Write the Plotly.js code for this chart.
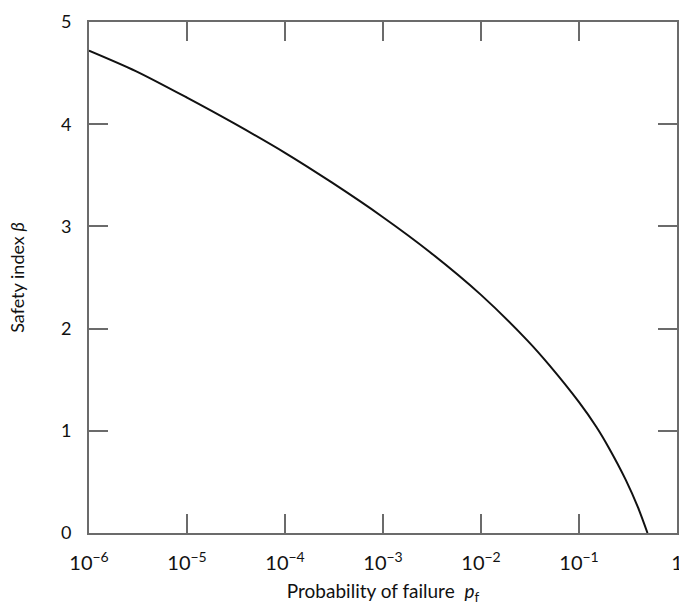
<!DOCTYPE html>
<html><head><meta charset="utf-8">
<script src="https://cdn.plot.ly/plotly-3.0.1.min.js"></script>
<style>html,body{margin:0;padding:0;background:#fff}</style>
</head><body>
<div id="chart" style="width:679px;height:609px"></div>
<script>
const pf = [1e-6, 3e-6, 1e-5, 3e-5, 1e-4, 3e-4, 1e-3, 3e-3, 1e-2, 3e-2, 5e-2, 1e-1, 0.15, 0.2, 0.3, 0.4, 0.5];
const beta = [4.72, 4.52, 4.26, 4.01, 3.72, 3.43, 3.09, 2.75, 2.33, 1.88, 1.64, 1.28, 1.04, 0.84, 0.52, 0.25, 0.0];
const xTickVals = [1e-6, 1e-5, 1e-4, 1e-3, 1e-2, 1e-1, 1];
const xTickText = ['10<sup>−6</sup>', '10<sup>−5</sup>', '10<sup>−4</sup>', '10<sup>−3</sup>', '10<sup>−2</sup>', '10<sup>−1</sup>', '1'];
const yTickVals = [0, 1, 2, 3, 4, 5];
const yTickText = ['0', '1', '2', '3', '4', '5'];

const fontFam = 'Lato, "Open Sans", sans-serif';
const axCol = '#6b6b6b';
const trace = {x: pf, y: beta, mode: 'lines', type: 'scatter',
  line: {color: '#111', width: 2, shape: 'spline', smoothing: 0.8}, hoverinfo: 'none'};
const common = {showline: true, linecolor: axCol, linewidth: 2, mirror: 'ticks', ticks: 'inside',
  ticklen: 19, tickwidth: 2, tickcolor: axCol, showgrid: false, zeroline: false,
  ticklabeloverflow: 'allow'};
const layout = {
  width: 679, height: 609,
  margin: {l: 89, r: 2, t: 22, b: 76},
  paper_bgcolor: '#fff', plot_bgcolor: '#fff', showlegend: false,
  font: {family: fontFam, color: '#111'},
  xaxis: Object.assign({}, common, {type: 'log', range: [-6, 0], tickvals: xTickVals, ticktext: xTickText,
    tickfont: {family: fontFam, size: 20, color: '#111'}, ticklabelstandoff: 11,
    title: {text: 'Probability of failure  <i>p</i><sub>f</sub>', font: {family: fontFam, size: 19, color: '#111'}, standoff: 12}}),
  yaxis: Object.assign({}, common, {range: [0, 5], tickvals: yTickVals, ticktext: yTickText, ticklabelstandoff: 12,
    tickfont: {family: fontFam, size: 18, color: '#111'},
    title: {text: 'Safety index <i>β</i>', font: {family: fontFam, size: 18, color: '#111'}, standoff: 32}})
};
Plotly.newPlot('chart', [trace], layout, {staticPlot: true, displayModeBar: false});
</script>
</body></html>
